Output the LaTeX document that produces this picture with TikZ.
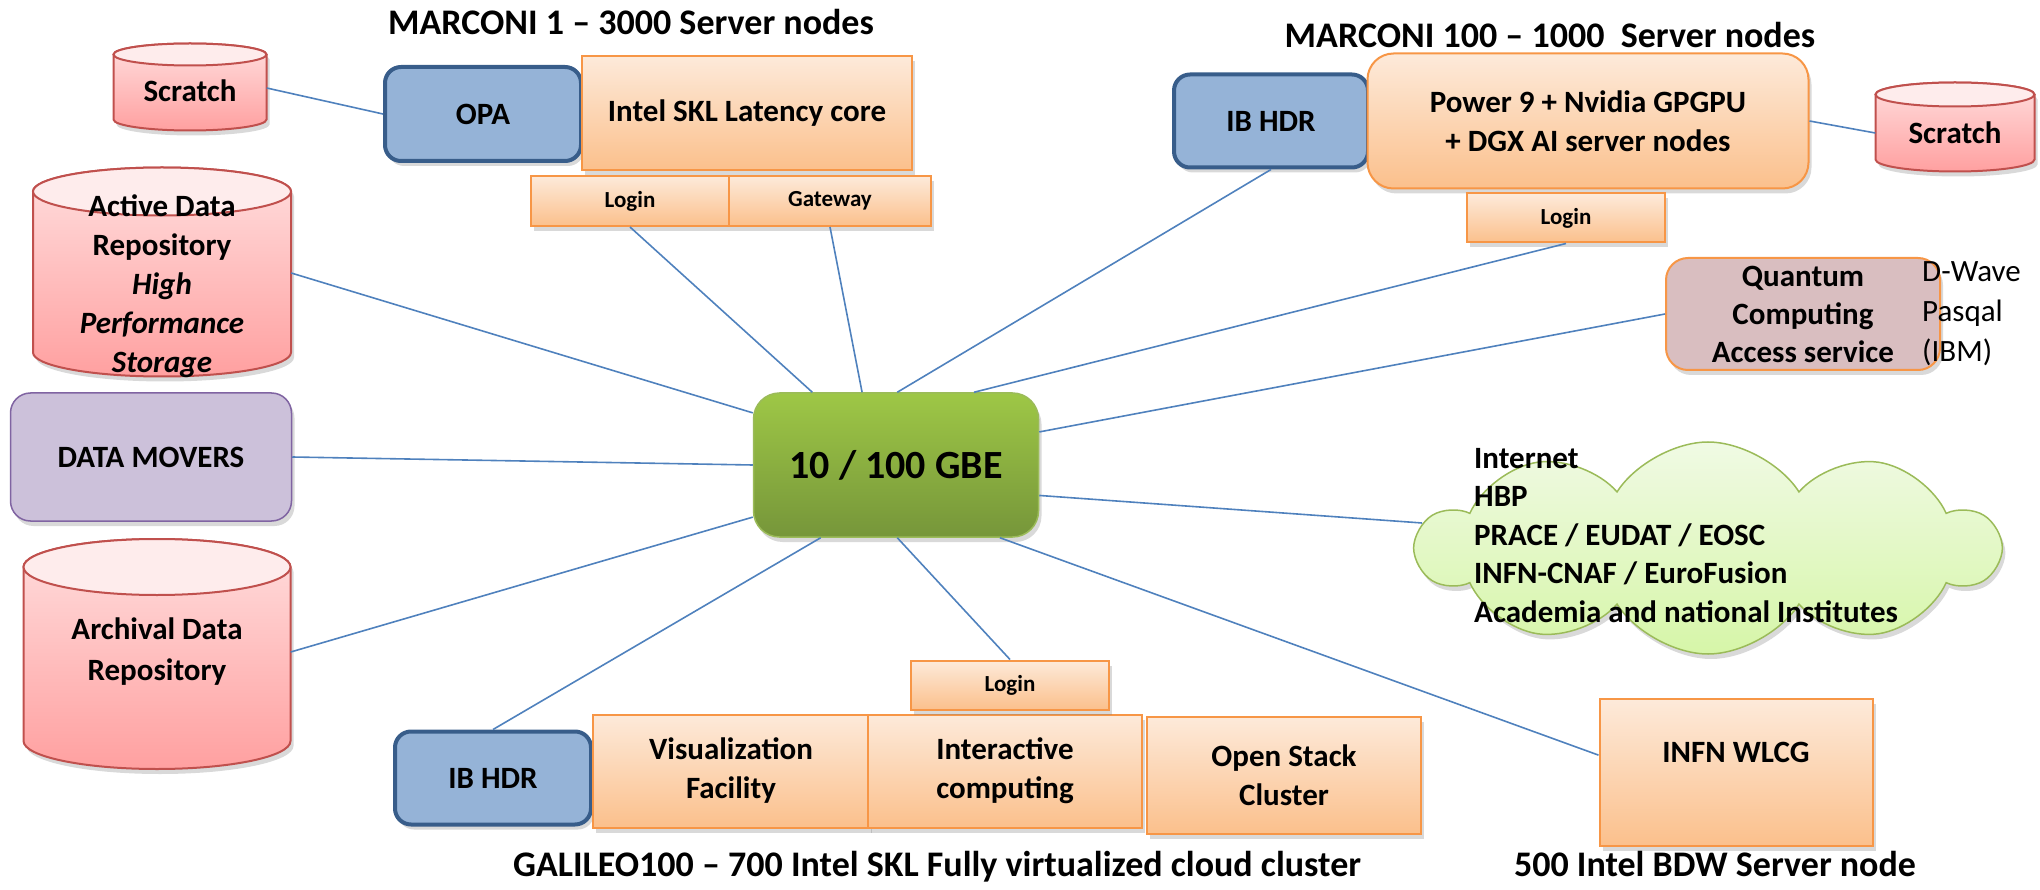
\documentclass[tikz,border=0pt]{standalone}
\usepackage{fontspec}
\setmainfont{Carlito}
\usetikzlibrary{shapes.symbols,shadows}

\definecolor{linkblue}{RGB}{79,129,189}
\definecolor{srvtop}{RGB}{253,234,218}
\definecolor{srvbot}{RGB}{251,192,140}
\definecolor{srvline}{RGB}{247,150,70}
\definecolor{ibfill}{RGB}{149,179,215}
\definecolor{ibline}{RGB}{56,93,138}
\definecolor{gbetop}{RGB}{158,199,70}
\definecolor{gbebot}{RGB}{118,150,58}
\definecolor{gbeline}{RGB}{155,187,89}
\definecolor{moverfill}{RGB}{204,193,218}
\definecolor{moverline}{RGB}{128,100,162}
\definecolor{disklid}{RGB}{254,236,236}
\definecolor{disktop}{RGB}{255,222,222}
\definecolor{diskbot}{RGB}{255,160,160}
\definecolor{diskline}{RGB}{192,80,77}
\definecolor{qfill}{RGB}{217,190,192}
\definecolor{cloudtop}{RGB}{240,250,228}
\definecolor{cloudbot}{RGB}{214,246,168}
\definecolor{cloudline}{RGB}{155,187,89}

\newcommand{\boxfont}{\fontsize{31}{39}\selectfont\bfseries}
\newcommand{\loginfont}{\fontsize{23}{28}\selectfont\bfseries}
\newcommand{\titlefont}{\fontsize{36}{43}\selectfont\bfseries}

% x, y (centre), width, height, half height of the lid
\newcommand{\drawdisk}[5]{%
  \path[diskbody] (#1-#3/2,#2-#4/2+#5) -- (#1-#3/2,#2+#4/2-#5)
    arc[start angle=180,end angle=0,x radius=#3/2,y radius=#5]
    -- (#1+#3/2,#2-#4/2+#5)
    arc[start angle=0,end angle=-180,x radius=#3/2,y radius=#5] -- cycle;
  \path[disklidstyle] (#1,#2-#4/2+#5) ellipse[x radius=#3/2,y radius=#5];
}

\tikzset{
  shadowed/.style={drop shadow={shadow xshift=3pt,shadow yshift=-5pt,opacity=0.3}},
  srvbox/.style={draw=srvline,line width=2pt,top color=srvtop,bottom color=srvbot,
                 align=center,font=\boxfont,inner sep=0pt,shadowed},
  ibbox/.style={draw=ibline,line width=4pt,fill=ibfill,rounded corners=16pt,
                font=\boxfont,inner sep=0pt,shadowed},
  diskbody/.style={draw=diskline,line width=2pt,top color=disktop,bottom color=diskbot,shadowed},
  disklidstyle/.style={draw=diskline,line width=2pt,fill=disklid},
  disktext/.style={align=center,font=\boxfont,inner sep=0pt},
  link/.style={draw=linkblue,line width=1.6pt},
  title/.style={font=\titlefont}
}

\begin{document}
\begin{tikzpicture}[x=1pt,y=-1pt]
  \useasboundingbox (0,0) rectangle (2040,890);

  %%%% Marconi 1 %%%%%%%%%%%%%%%%%%%%%%%%%%%%%%%%%%%%%%%%%%%%%%%%%%%%%%%
  \node[title] (mtitleA) at (631,22) {MARCONI 1 -- 3000 Server nodes};
  \drawdisk{190}{87}{153}{87}{11}
  \node[disktext,minimum width=153pt] (scrA) at (190,91) {Scratch};
  \node[ibbox,minimum width=196pt,minimum height=94pt] (opa) at (483,114) {OPA};
  \node[srvbox,minimum width=330pt,minimum height=114pt] (skl) at (747,113) {Intel SKL Latency core};
  \node[srvbox,font=\loginfont,minimum width=198pt,minimum height=50pt] (loginA) at (630,201) {Login};
  \node[srvbox,font=\loginfont,minimum width=202pt,minimum height=50pt] (gateway) at (830,201) {Gateway};

  %%%% Storage and data movers %%%%%%%%%%%%%%%%%%%%%%%%%%%%%%%%%%%%%%%%%
  \drawdisk{162}{272}{258}{209}{24}
  \node[disktext,minimum width=258pt] (active) at (162,286)
    {Active Data\\Repository\\\itshape High\\\itshape Performance\\\itshape Storage};
  \node[draw=moverline,line width=1.5pt,fill=moverfill,rounded corners=20pt,font=\boxfont,
        minimum width=281pt,minimum height=128pt,shadowed] (movers) at (151,457) {DATA MOVERS};
  \drawdisk{157}{654}{267}{230}{28}
  \node[disktext,font=\fontsize{31}{41}\selectfont\bfseries,minimum width=267pt]
    (archival) at (157,652) {Archival Data\\Repository};

  %%%% Switch %%%%%%%%%%%%%%%%%%%%%%%%%%%%%%%%%%%%%%%%%%%%%%%%%%%%%%%%%%
  \node[draw=gbeline,line width=1.5pt,top color=gbetop,bottom color=gbebot,rounded corners=26pt,
        font=\fontsize{40}{48}\selectfont\bfseries,minimum width=285pt,minimum height=144pt,shadowed]
    (gbe) at (896,465) {10 / 100 GBE};

  %%%% Marconi 100 %%%%%%%%%%%%%%%%%%%%%%%%%%%%%%%%%%%%%%%%%%%%%%%%%%%%%
  \node[title] (mtitleB) at (1550,35) {MARCONI 100 -- 1000\ \ Server nodes};
  \node[ibbox,minimum width=194pt,minimum height=93pt] (ibA) at (1271,121) {IB HDR};
  \node[srvbox,rounded corners=26pt,minimum width=441pt,minimum height=135pt] (power) at (1588,121)
    {Power 9 + Nvidia GPGPU\\+ DGX AI server nodes};
  \node[srvbox,font=\loginfont,minimum width=198pt,minimum height=49pt] (loginC) at (1566,218) {Login};
  \drawdisk{1955}{127}{159}{89}{12}
  \node[disktext,minimum width=159pt] (scrB) at (1955,133) {Scratch};

  %%%% Quantum access %%%%%%%%%%%%%%%%%%%%%%%%%%%%%%%%%%%%%%%%%%%%%%%%%%
  \node[draw=srvline,line width=2pt,fill=qfill,rounded corners=22pt,align=center,
        font=\fontsize{31}{38}\selectfont\bfseries,minimum width=274pt,minimum height=112pt,shadowed]
    (quantum) at (1803,314) {Quantum\\Computing\\Access service};
  \node[anchor=west,align=left,font=\fontsize{31}{40}\selectfont,inner sep=0pt] (vendors) at (1922,314)
    {D-Wave\\Pasqal\\(IBM)};

  %%%% External networks %%%%%%%%%%%%%%%%%%%%%%%%%%%%%%%%%%%%%%%%%%%%%%%
  \node[cloud,cloud puffs=10,cloud puff arc=115,aspect=2.8,draw=cloudline,line width=1.5pt,
        top color=cloudtop,bottom color=cloudbot,minimum width=580pt,minimum height=212pt,
        inner sep=0pt,shadowed] (cloud) at (1708,548) {};
  \node[anchor=north west,align=left,font=\fontsize{31}{38.5}\selectfont\bfseries,inner sep=0pt]
    (nets) at (1474,448)
    {Internet\\HBP\\PRACE / EUDAT / EOSC\\INFN-CNAF / EuroFusion\\Academia and national Institutes};

  %%%% Galileo 100 %%%%%%%%%%%%%%%%%%%%%%%%%%%%%%%%%%%%%%%%%%%%%%%%%%%%%
  \node[ibbox,minimum width=196pt,minimum height=93pt] (ibB) at (493,778) {IB HDR};
  \node[srvbox,minimum width=276pt,minimum height=113pt] (vis) at (731,771) {Visualization\\Facility};
  \node[srvbox,minimum width=274pt,minimum height=113pt] (inter) at (1005,771) {Interactive\\computing};
  \node[srvbox,font=\loginfont,minimum width=198pt,minimum height=49pt] (loginB) at (1010,685) {Login};
  \node[srvbox,minimum width=274pt,minimum height=117pt] (stack) at (1284,775) {Open Stack\\Cluster};
  \node[title] (gtitle) at (937,867) {GALILEO100 -- 700 Intel SKL Fully virtualized cloud cluster};

  %%%% INFN %%%%%%%%%%%%%%%%%%%%%%%%%%%%%%%%%%%%%%%%%%%%%%%%%%%%%%%%%%%%
  \node[srvbox,text depth=40pt,minimum width=273pt,minimum height=147pt] (wlcg) at (1736,772) {INFN WLCG};
  \node[title] (wtitle) at (1715,864) {500 Intel BDW Server node};

  %%%% Links %%%%%%%%%%%%%%%%%%%%%%%%%%%%%%%%%%%%%%%%%%%%%%%%%%%%%%%%%%%
  \draw[link] ([yshift=3pt]scrA.east) -- (opa.west);
  \draw[link] (power.east) -- (scrB.west);
  \draw[link] ([yshift=13pt]active.east) -- (gbe.160);
  \foreach \src/\ang in {loginA.south/139,gateway.south/115,ibA.south/89,loginC.south/43,
                         quantum.west/13,movers.east/180,archival.east/-160,
                         ibB.north/-136,loginB.north/-89,wlcg.173/-35}
    \draw[link] (\src) -- (gbe.\ang);
  \draw[link] (gbe.-12) -- (cloud.175);
\end{tikzpicture}
\end{document}
